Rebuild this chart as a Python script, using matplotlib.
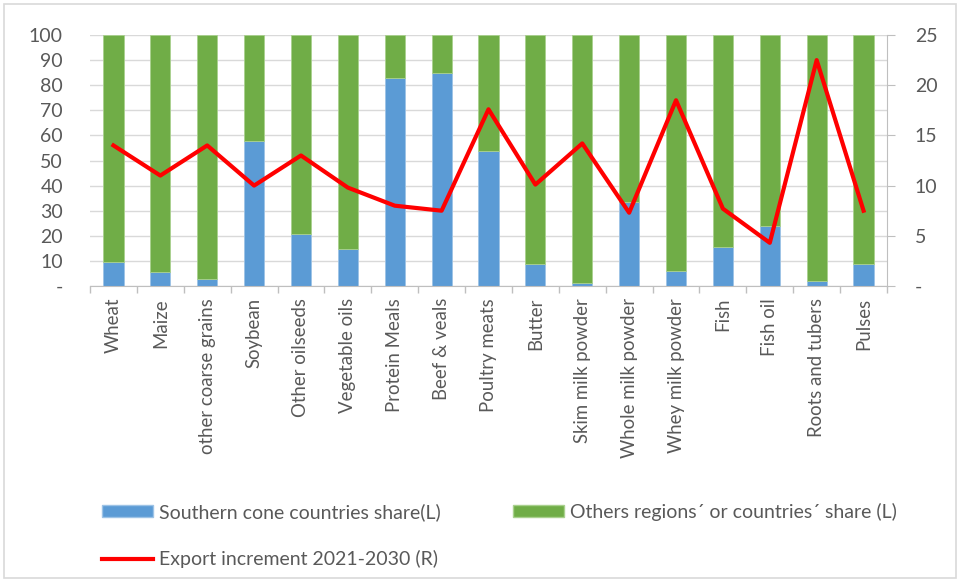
"""
Participacion del Cono Sur en exportaciones (barras apiladas, eje L)
e incremento de exportaciones 2021-2030 (linea, eje R).
"""
import matplotlib
matplotlib.use("Agg")
import matplotlib.pyplot as plt
import numpy as np
from matplotlib.lines import Line2D
from matplotlib.patches import Patch, Rectangle

plt.rcParams["font.family"] = ["Lato", "DejaVu Sans"]

categorias = ["Wheat", "Maize", "other coarse grains", "Soybean", "Other oilseeds",
              "Vegetable oils", "Protein Meals", "Beef & veals", "Poultry meats", "Butter",
              "Skim milk powder", "Whole milk powder", "Whey milk powder", "Fish", "Fish oil",
              "Roots and tubers", "Pulses"]
cono_sur = [9.7, 5.6, 2.9, 57.7, 20.9, 14.7, 82.9, 84.9, 53.6, 8.7, 1.0, 33.6, 6.0, 15.7, 24.0, 2.0, 8.8]
otros = [90.3, 94.4, 97.1, 42.3, 79.1, 85.3, 17.1, 15.1, 46.4, 91.3, 99.0, 66.4, 94.0, 84.3, 76.0, 98.0, 91.2]
incremento = [14.0, 11.0, 14.0, 10.0, 13.0, 9.8, 8.0, 7.5, 17.6, 10.1, 14.2, 7.3, 18.5, 7.7, 4.3, 22.5, 7.5]

ticks_L = [0, 10, 20, 30, 40, 50, 60, 70, 80, 90, 100]
ticks_R = [0, 5, 10, 15, 20, 25]

AZUL = "#5b9bd5"; VERDE = "#70ad47"; ROJO = "#ff0000"
TXT = "#595959"; GRID = "#d9d9d9"; EJE = "#bfbfbf"
FS = 14

W, H = 960, 582
fig = plt.figure(figsize=(W / 100, H / 100), dpi=100)
fig.patches.append(Rectangle((4 / W, 4 / H), 1 - 8 / W, 1 - 8 / H, transform=fig.transFigure,
                             fill=False, ec=GRID, lw=1.2))
ax = fig.add_axes([90 / W, (H - 286) / H, (887 - 90) / W, (286 - 35) / H])

x = np.arange(len(categorias))
ax.bar(x, cono_sur, 0.43, color=AZUL, ec="#9dc3e6", lw=0.6, zorder=2)
ax.bar(x, otros, 0.43, bottom=cono_sur, color=VERDE, ec="#a9d18e", lw=0.6, zorder=2)
ax.set_xlim(-0.5, len(categorias) - 0.5)
ax.set_ylim(0, 100)
ax.set_yticks(ticks_L)
ax.set_yticklabels(["-" if t == 0 else str(t) for t in ticks_L])
ax.yaxis.grid(True, color=GRID, lw=1)
ax.set_axisbelow(True)
ax.tick_params(axis="y", length=0, pad=19.5, labelsize=FS, labelcolor=TXT)
ax.set_xticks(x)
ax.set_xticklabels(categorias, rotation=90, fontsize=13.4, color=TXT)
ax.set_xticks(np.arange(len(categorias) + 1) - 0.5, minor=True)
ax.tick_params(axis="x", which="major", length=0, pad=8.6)
ax.tick_params(axis="x", which="minor", length=5, color=EJE, width=1)
for s in ["top", "left", "right"]:
    ax.spines[s].set_visible(False)
ax.spines["bottom"].set_color(EJE)

ax2 = ax.twinx()
ax2.plot(x, incremento, color=ROJO, lw=3, solid_joinstyle="round", zorder=3)
ax2.set_ylim(0, 25)
ax2.set_yticks(ticks_R)
ax2.set_yticklabels(["-" if t == 0 else str(t) for t in ticks_R])
ax2.tick_params(axis="y", length=5.5, color=EJE, pad=14.5, labelsize=FS, labelcolor=TXT)
for s in ["top", "left", "bottom"]:
    ax2.spines[s].set_visible(False)
ax2.spines["right"].set_color(EJE)

# leyenda: una entrada por posicion
entradas = [
    (Patch(fc=AZUL, ec="#9dc3e6"), "Southern cone countries share(L)", 102, 512),
    (Patch(fc=VERDE, ec="#a9d18e"), "Others regions\u00b4 or countries\u00b4 share (L)", 513, 512),
    (Line2D([], [], color=ROJO, lw=3), "Export increment 2021-2030 (R)", 102, 559),
]
for h, lb, px, py in entradas:
    lg = fig.legend([h], [lb], loc="center left", bbox_to_anchor=(px / W, 1 - py / H),
                    frameon=False, fontsize=FS, borderpad=0, borderaxespad=0,
                    handlelength=2.6, handleheight=0.55, handletextpad=0.35)
    for t in lg.get_texts():
        t.set_color(TXT)

fig.savefig("out.png", dpi=100)
